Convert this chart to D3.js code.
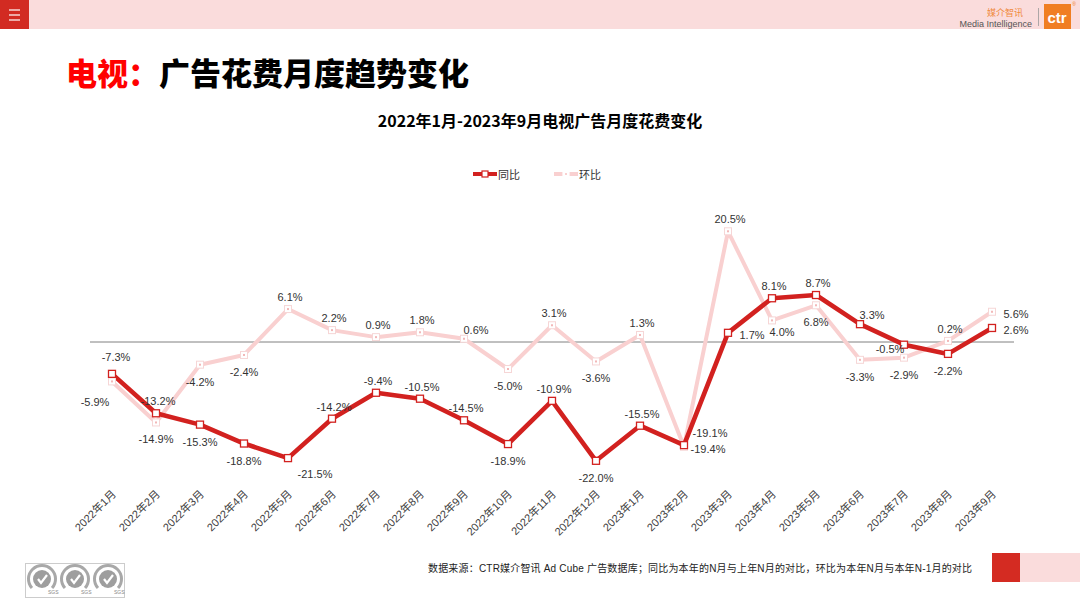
<!DOCTYPE html>
<html><head><meta charset="utf-8">
<script src="https://cdn.jsdelivr.net/npm/d3@7"></script>
<style>body{margin:0;background:#fff;} svg{display:block;}</style>
</head><body>
<svg id="c" width="1080" height="608"></svg>
<script>
// ---- data ----
const months = ["2022年1月","2022年2月","2022年3月","2022年4月","2022年5月","2022年6月","2022年7月","2022年8月","2022年9月","2022年10月","2022年11月","2022年12月","2023年1月","2023年2月","2023年3月","2023年4月","2023年5月","2023年6月","2023年7月","2023年8月","2023年9月"];
const yoy = [-5.9,-13.2,-15.3,-18.8,-21.5,-14.2,-9.4,-10.5,-14.5,-18.9,-10.9,-22.0,-15.5,-19.1,1.7,8.1,8.7,3.3,-0.5,-2.2,2.6];
const mom = [-7.3,-14.9,-4.2,-2.4,6.1,2.2,0.9,1.8,0.6,-5.0,3.1,-3.6,1.3,-19.4,20.5,4.0,6.8,-3.3,-2.9,0.2,5.6];
const seriesNames = ["同比","环比"];

// ---- label placement codes (layout only) ----
const yoyLabelPos = ['c1','t','b','b','br','t','t','t','t','b','t','b','t','tr','r','t','t','a','l','b','r'];
const momLabelPos = ['c2','b','b','b','t','t','t','t','a','b','t','b','t','r','t','s','b','b','b','t','r'];
const OFF = {t:[2,-12], b:[0,17], br:[27,16], tr:[26,-12], r:[24,2], l:[-14,4], a:[12,-9], s:[10,12], c1:[-17,28], c2:[4,-24]};

const RED = "#D2211F", PINK = "#F9D0D0", TXT = "#333333";
const LATIN = "'Liberation Sans', Arial, 'Noto Sans CJK SC', sans-serif";
const CJK = "'Noto Sans CJK SC', 'Noto Sans', sans-serif";

const svg = d3.select("#c");

// ---- header ----
svg.append("rect").attr("x",0).attr("y",0).attr("width",1080).attr("height",29).attr("fill","#FADCDC");
svg.append("rect").attr("x",0).attr("y",0).attr("width",29).attr("height",29).attr("fill","#D22B22");
[10,15,20].forEach(y=>svg.append("line").attr("x1",9).attr("x2",20).attr("y1",y).attr("y2",y).attr("stroke","#fff").attr("stroke-width",1.2));
svg.append("text").attr("x",1023).attr("y",16).attr("text-anchor","end").attr("font-family",CJK).attr("font-size",9).attr("fill","#F08A3C").text("媒介智讯");
svg.append("text").attr("x",1032).attr("y",27).attr("text-anchor","end").attr("font-family",LATIN).attr("font-size",9).attr("fill","#555").text("Media Intelligence");
svg.append("line").attr("x1",1038.5).attr("x2",1038.5).attr("y1",8).attr("y2",26).attr("stroke","#999").attr("stroke-width",0.8);
svg.append("rect").attr("x",1044).attr("y",4).attr("width",27).attr("height",25).attr("fill","#F07E22");
svg.append("text").attr("x",1057).attr("y",23).attr("text-anchor","middle").attr("font-family",LATIN).attr("font-weight","bold").attr("font-size",15).attr("fill","#fff").text("ctr");
svg.append("text").attr("x",1074).attr("y",6).attr("text-anchor","middle").attr("font-family",LATIN).attr("font-size",5).attr("fill","#F07E22").text("®");

// ---- main title ----
const mt = svg.append("text").attr("x",66).attr("y",71).attr("dominant-baseline","central")
  .attr("font-family",CJK).attr("font-weight",900).attr("font-size",31);
mt.append("tspan").attr("fill","#FF0000").text("电视：");
mt.append("tspan").attr("fill","#000").text("广告花费月度趋势变化");

// ---- chart title ----
svg.append("text").attr("x",540).attr("y",120).attr("dominant-baseline","central").attr("text-anchor","middle")
  .attr("font-family",CJK).attr("font-weight","bold").attr("font-size",16).attr("fill","#000")
  .text("2022年1月-2023年9月电视广告月度花费变化");

// ---- scales ----
const x = d3.scaleBand().domain(months).range([90,1014]);
const cx = d => x(d) + x.bandwidth()/2;
const y = d3.scaleLinear().domain([-25,25]).range([477,207]);

// zero line
svg.append("line").attr("x1",90).attr("x2",1014).attr("y1",y(0)).attr("y2",y(0)).attr("stroke","#808080").attr("stroke-width",1);

// ---- legend ----
const lg = svg.append("g");
lg.append("line").attr("x1",473).attr("x2",497).attr("y1",174).attr("y2",174).attr("stroke",RED).attr("stroke-width",4);
lg.append("rect").attr("x",482).attr("y",171).attr("width",6).attr("height",6).attr("fill","#fff").attr("stroke",RED).attr("stroke-width",1.2);
lg.append("text").attr("x",498).attr("y",174).attr("dominant-baseline","central").attr("font-family",CJK).attr("font-size",11).attr("fill",TXT).text(seriesNames[0]);
lg.append("line").attr("x1",554).attr("x2",578).attr("y1",174).attr("y2",174).attr("stroke",PINK).attr("stroke-width",4);
lg.append("rect").attr("x",563).attr("y",171).attr("width",6).attr("height",6).attr("fill","#fff").attr("stroke","#fff").attr("stroke-width",1.2);
lg.append("rect").attr("x",565).attr("y",173).attr("width",2).attr("height",2).attr("fill",PINK);
lg.append("text").attr("x",579).attr("y",174).attr("dominant-baseline","central").attr("font-family",CJK).attr("font-size",11).attr("fill",TXT).text(seriesNames[1]);

// ---- lines ----
const line = d3.line().x((d,i)=>cx(months[i])).y(d=>y(d));
svg.append("path").datum(mom).attr("d",line).attr("fill","none").attr("stroke",PINK).attr("stroke-width",4).attr("stroke-linejoin","round");
svg.append("path").datum(yoy).attr("d",line).attr("fill","none").attr("stroke",RED).attr("stroke-width",4.6).attr("stroke-linejoin","round");

// markers
svg.append("g").selectAll("g").data(mom).join("g").each(function(d,i){
  const g = d3.select(this);
  g.append("rect").attr("x",cx(months[i])-3.5).attr("y",y(d)-3.5).attr("width",7).attr("height",7).attr("fill","#fff").attr("stroke","#F6D6D6").attr("stroke-width",1);
  g.append("rect").attr("x",cx(months[i])-1).attr("y",y(d)-1).attr("width",2).attr("height",2).attr("fill","#F2B8B8");
});
svg.append("g").selectAll("rect").data(yoy).join("rect")
  .attr("x",(d,i)=>cx(months[i])-3.5).attr("y",d=>y(d)-3.5).attr("width",7).attr("height",7)
  .attr("fill","#fff").attr("stroke",RED).attr("stroke-width",1.3);

// data labels
function labels(vals,pos){
  svg.append("g").selectAll("text").data(vals).join("text")
    .attr("x",(d,i)=>cx(months[i])+OFF[pos[i]][0]).attr("y",(d,i)=>y(d)+OFF[pos[i]][1])
    .attr("text-anchor","middle").attr("dominant-baseline","central")
    .attr("font-family",LATIN).attr("font-size",11).attr("fill",TXT)
    .text(d=>d.toFixed(1)+"%");
}
labels(mom,momLabelPos);
labels(yoy,yoyLabelPos);

// ---- x axis ----
const ax = svg.append("g").attr("transform","translate(0,492)").call(d3.axisBottom(x).tickSize(0));
ax.select(".domain").remove();
ax.selectAll("text").attr("x",0).attr("y",0).attr("dy","0.35em")
  .attr("transform","translate(2,0) rotate(-45)").attr("text-anchor","end")
  .attr("font-family",LATIN).attr("font-size",11).attr("fill","#404040");

// ---- footer ----
svg.append("text").attr("x",428).attr("y",568).attr("dominant-baseline","central")
  .attr("font-family",LATIN).attr("font-size",10).attr("fill","#222")
  .attr("textLength",544).attr("lengthAdjust","spacing")
  .text("数据来源：CTR媒介智讯 Ad Cube 广告数据库；同比为本年的N月与上年N月的对比，环比为本年N月与本年N-1月的对比");
svg.append("rect").attr("x",992).attr("y",553).attr("width",28).attr("height",29).attr("fill","#D42B22");
svg.append("rect").attr("x",1020).attr("y",553).attr("width",60).attr("height",29).attr("fill","#FADCDC");

// SGS marks
svg.append("rect").attr("x",25.5).attr("y",563.5).attr("width",99).attr("height",34).attr("fill","#fff").attr("stroke","#ccc");
[42,75,108].forEach(c=>{
  const g = svg.append("g").attr("transform",`translate(${c},579)`);
  g.append("path").attr("d",d3.arc()({innerRadius:12,outerRadius:15,startAngle:-2.3,endAngle:2.3})).attr("fill","#A8A8A8");
  g.append("circle").attr("r",9).attr("fill","#9E9E9E");
  g.append("path").attr("d","M-4,0 L-1,4 L5,-4").attr("fill","none").attr("stroke","#fff").attr("stroke-width",2.2);
  g.append("text").attr("x",6).attr("y",15).attr("font-family",LATIN).attr("font-size",5).attr("fill","#888").text("SGS");
});
</script>
</body></html>
